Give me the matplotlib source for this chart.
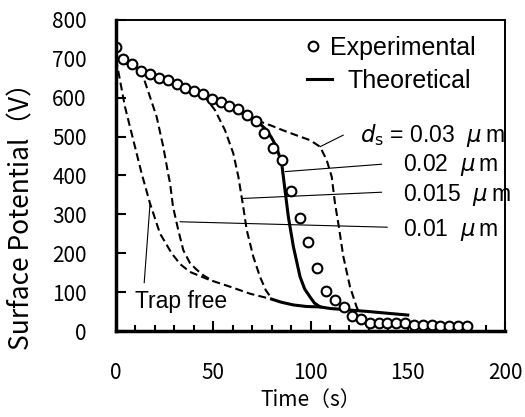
import matplotlib
matplotlib.use("Agg")
import matplotlib.pyplot as plt
from matplotlib.lines import Line2D

# ---------------- data ----------------
exp_t = [0, 3.8, 8.4, 12.9, 17.5, 22.1, 26.5, 31.2, 35.6, 40.2, 44.9, 49.5, 53.8,
         58.2, 62.7, 67.2, 71.8, 76.3, 80.7, 85.3, 90.0, 94.4, 98.9, 103.4, 108.0,
         112.5, 117.0, 121.5, 126.0, 130.6, 135.0, 139.4, 144.0, 148.6, 153.0,
         157.6, 162.3, 166.7, 171.2, 175.8, 180.3]
exp_v = [731, 699, 686, 669, 661, 650, 645, 635, 624, 618, 609, 598, 590,
         579, 570, 555, 541, 510, 471, 441, 360, 290, 230, 161, 103,
         81, 61, 39, 30, 20, 20, 20, 20, 20, 15,
         15, 15, 12, 12, 12, 12]

th02_t = [0, 5, 10, 15, 20, 25, 30, 35, 40, 45, 50, 55, 60, 65, 70, 74, 77.4, 80,
          82.5, 85.2, 86.9, 88.6, 91.2, 94.6, 97, 99.7, 102, 104.9, 110, 120, 130,
          141, 150]
th02_v = [702, 690, 678, 666, 655, 645, 635, 625, 615, 605, 595, 584, 572, 560,
          547, 533, 517, 497, 474, 431, 362, 294, 217, 140, 108, 88, 72, 62, 58,
          54, 50, 45, 41]

tail_t = [80, 85, 91.2, 98, 104.9]
tail_v = [82, 74, 67, 63, 62]

free_t = [0, 4.6, 8.9, 13.2, 17.5, 22.6, 28.6, 33, 38, 48.3, 58.6, 68.9, 80]
free_v = [700, 577, 491, 405, 328, 251, 200, 172, 152, 131, 114, 96, 82]

d01_t = [11, 14, 17.5, 20.9, 24.3, 26.8, 27.8, 29.3, 32, 34.6, 38, 41.4, 45, 50]
d01_v = [668, 654, 602, 551, 474, 405, 380, 320, 260, 208, 175, 158, 143, 128]

d015_t = [45, 50.9, 56, 60.3, 62.9, 65.4, 67.2, 70.6, 74, 77, 80]
d015_v = [607, 568, 517, 457, 397, 320, 260, 191, 140, 105, 84]

d03_t = [72.3, 80, 86, 93, 99.7, 104.9, 108.3, 110.9, 112.6, 114.3, 116.9, 120.3,
         123.7, 125]
d03_v = [542, 528, 516, 503, 491, 474, 440, 397, 328, 277, 191, 114, 62, 48]

x_ticks = [0, 50, 100, 150, 200]
y_ticks = [0, 100, 200, 300, 400, 500, 600, 700, 800]

# ---------------- figure ----------------
fig = plt.figure(figsize=(5.25, 4.17), dpi=100)
ax = fig.add_axes([116/525, 86/417, 389/525, 311/417])

jp = ['Noto Sans CJK JP', 'DejaVu Sans']
ar = ['Liberation Sans', 'DejaVu Sans']

dash = dict(color='black', lw=1.5, ls=(0, (3.8, 2)))
ax.plot(free_t, free_v, **dash)
ax.plot(d01_t, d01_v, **dash)
ax.plot(d015_t, d015_v, **dash)
ax.plot(d03_t, d03_v, **dash)
ax.plot(tail_t, tail_v, color='black', lw=2.2)
ax.plot(th02_t, th02_v, color='black', lw=2.2)
ax.plot(exp_t, exp_v, ls='none', marker='o', ms=7, mfc='white', mec='black', mew=1.5)

ax.set_xlim(0, 200)
ax.set_ylim(0, 800)
ax.set_xticks(x_ticks)
ax.set_yticks(y_ticks)
ax.set_xticks(range(0, 201, 10), minor=True)
ax.tick_params(axis='both', which='major', direction='in', length=7, width=1.5, labelsize=15)
ax.tick_params(axis='x', which='minor', direction='in', length=4, width=1.5)
ax.tick_params(axis='x', which='major', pad=22)
ax.tick_params(axis='y', which='major', pad=21)
for lab in ax.get_xticklabels() + ax.get_yticklabels():
    lab.set_fontfamily(jp)
for s in ['left', 'bottom']:
    ax.spines[s].set_linewidth(2.5)
for s in ['top', 'right']:
    ax.spines[s].set_linewidth(1.4)

ax.set_xlabel('Time（s）', fontsize=15, family=jp, labelpad=4)
ax.set_ylabel('Surface Potential（V）', fontsize=19, family=jp)
ax.yaxis.set_label_coords(-81/389, 121/311)

# legend (two parts)
h_exp = Line2D([], [], ls='none', marker='o', ms=7, mfc='white', mec='black', mew=1.5)
h_th = Line2D([], [], color='black', lw=2.2)
leg1 = ax.legend([h_exp], ['Experimental'], loc='center left',
                 bbox_to_anchor=(188/389, 283/311), frameon=False,
                 prop={'family': ar, 'size': 18}, handlelength=0.7,
                 handletextpad=0.35, borderpad=0, borderaxespad=0)
ax.add_artist(leg1)
ax.legend([h_th], ['Theoretical'], loc='center left',
          bbox_to_anchor=(191/389, 250/311), frameon=False,
          prop={'family': ar, 'size': 18}, handlelength=1.0,
          handletextpad=0.6, borderpad=0, borderaxespad=0)

# annotations
lp = dict(arrowstyle='-', color='black', lw=0.8, shrinkA=0, shrinkB=0)
ax.annotate('', xy=(104.9, 474), xytext=(116.9, 504), arrowprops=lp)
ax.annotate('', xy=(86.9, 410), xytext=(136.6, 429), arrowprops=lp)
ax.annotate('', xy=(65.4, 341), xytext=(136.6, 357), arrowprops=lp)
ax.annotate('', xy=(32.9, 281), xytext=(139.5, 267), arrowprops=lp)
ax.annotate('', xy=(17.5, 328), xytext=(14.5, 124), arrowprops=lp)

fs = 16.5
ax.text(125.4, 504, r'$d_{\mathrm{s}}$ = 0.03  $\mu\,$m', fontsize=fs, family=ar, va='center', ha='left')
ax.text(147.4, 427, r'0.02  $\mu\,$m', fontsize=fs, family=ar, va='center', ha='left')
ax.text(147.4, 350, r'0.015  $\mu\,$m', fontsize=fs, family=ar, va='center', ha='left')
ax.text(147.4, 260, r'0.01  $\mu\,$m', fontsize=fs, family=ar, va='center', ha='left')
ax.text(9.8, 75, 'Trap free', fontsize=fs, family=ar, va='center', ha='left')

fig.savefig('out.png', dpi=100)
